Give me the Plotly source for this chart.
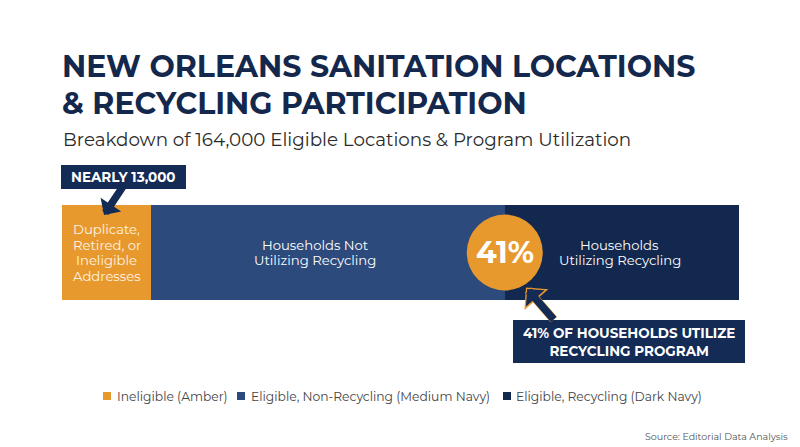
import plotly.graph_objects as go

# ---- data ----
segments = ["Ineligible (Amber)", "Eligible, Non-Recycling (Medium Navy)", "Eligible, Recycling (Dark Navy)"]
segment_share = [13.2, 52.2, 34.6]   # visual share of the bar (percent of width)
segment_labels = [["Duplicate,", "Retired, or", "Ineligible", "Addresses"],
                  ["Households Not", "Utilizing Recycling"],
                  ["Households", "Utilizing Recycling"]]
colors = ["#E8992E", "#2D4A7C", "#13284F"]
recycling_pct = 41
ineligible_note = "NEARLY 13,000"
pct_note = "41% OF HOUSEHOLDS UTILIZE<br>RECYCLING PROGRAM"

W, H = 800, 447
FONT = "Montserrat, 'Open Sans', Lato, sans-serif"
NAVY = "#13284C"
BOX = "#132B55"

def px(x):
    return x / W

def py(y):
    return 1 - y / H

fig = go.Figure()
for name, val, col in zip(segments, segment_share, colors):
    fig.add_trace(go.Bar(y=["all"], x=[val], orientation="h", name=name,
                         marker=dict(color=col, line=dict(width=0)),
                         width=1, showlegend=False, hoverinfo="skip"))

total = sum(segment_share)
bounds = [0]
for v in segment_share:
    bounds.append(bounds[-1] + v)

fig.update_layout(
    width=W, height=H, barmode="stack",
    margin=dict(l=0, r=0, t=0, b=0),
    paper_bgcolor="white", plot_bgcolor="white",
    xaxis=dict(range=[0, total], domain=[62 / W, 739 / W], visible=False, fixedrange=True),
    yaxis=dict(range=[-0.5, 0.5], domain=[1 - 300 / H, 1 - 205 / H], visible=False, fixedrange=True),
    showlegend=False,
    font=dict(family=FONT),
)

ann = []
shapes = []
# Title & subtitle
ann.append(dict(text="<b>NEW ORLEANS SANITATION LOCATIONS</b>", x=px(60), y=py(66), xref="paper", yref="paper",
                xanchor="left", yanchor="middle", showarrow=False, font=dict(size=30, color=NAVY, family=FONT)))
ann.append(dict(text="<b>&amp; RECYCLING PARTICIPATION</b>", x=px(60), y=py(103), xref="paper", yref="paper",
                xanchor="left", yanchor="middle", showarrow=False, font=dict(size=30, color=NAVY, family=FONT)))
ann.append(dict(text="Breakdown of 164,000 Eligible Locations &amp; Program Utilization", x=px(61), y=py(139),
                xref="paper", yref="paper", xanchor="left", yanchor="middle", showarrow=False,
                font=dict(size=18.3, color="#2a2a2a", family=FONT)))

# Segment labels (one annotation per line for tight line spacing)
label_x = [bounds[0] + segment_share[0] / 2, bounds[1] + segment_share[1] / 2 - 2.0, bounds[2] + segment_share[2] / 2 - 0.3]
label_color = ["#FDF3E2", "white", "white"]
LINE = 15.5
for lx, lines, lc in zip(label_x, segment_labels, label_color):
    n = len(lines)
    for i, line in enumerate(lines):
        yc = 252.5 + (i - (n - 1) / 2) * LINE
        ann.append(dict(text=line, x=lx, y=py(yc), xref="x", yref="paper", xanchor="center", yanchor="middle",
                        showarrow=False, font=dict(size=13.2, color=lc, family=FONT)))

# Circle with percentage
shapes.append(dict(type="circle", xref="x", yref="y", xsizemode="pixel", ysizemode="pixel",
                   xanchor=bounds[2], yanchor=0, x0=-38, x1=38, y0=-38, y1=38,
                   fillcolor=colors[0], line=dict(width=0), layer="above"))
ann.append(dict(text="<b>%d%%</b>" % recycling_pct, x=bounds[2], y=0, xref="x", yref="y", xanchor="center",
                yanchor="middle", showarrow=False, font=dict(size=30, color="white", family=FONT)))

# Callout box 1
shapes.append(dict(type="rect", xref="paper", yref="paper", x0=px(61), x1=px(186), y0=py(189), y1=py(165),
                   fillcolor=BOX, line=dict(width=0), layer="above"))
ann.append(dict(text="<b>" + ineligible_note + "</b>", x=px(123.5), y=py(177), xref="paper", yref="paper",
                xanchor="center", yanchor="middle",
                showarrow=False, font=dict(size=13.5, color="white", family=FONT)))
# Arrow 1
ann.append(dict(text="", x=px(104), y=py(215), xref="paper", yref="paper", showarrow=True,
                ax=20, ay=-30, arrowhead=1, arrowsize=0.55, arrowwidth=7.5, arrowcolor=BOX))

# Callout box 2
shapes.append(dict(type="rect", xref="paper", yref="paper", x0=px(513), x1=px(745), y0=py(363), y1=py(320),
                   fillcolor=BOX, line=dict(width=0), layer="above"))
ann.append(dict(text="<b>" + pct_note + "</b>", x=px(629), y=py(341.5), xref="paper", yref="paper",
                xanchor="center", yanchor="middle",
                showarrow=False, font=dict(size=13.5, color="white", family=FONT), align="center"))
# Arrow 2 (thin amber outline then navy)
ann.append(dict(text="", x=px(526), y=py(287.6), xref="paper", yref="paper", showarrow=True,
                ax=29, ay=33.4, arrowhead=1, arrowsize=0.62, arrowwidth=8.5, arrowcolor=colors[0]))
ann.append(dict(text="", x=px(527.2), y=py(289), xref="paper", yref="paper", showarrow=True,
                ax=27.8, ay=32, arrowhead=1, arrowsize=0.55, arrowwidth=7.5, arrowcolor=BOX))

# Legend (manual squares + labels)
sq_x = [103, 237, 503]
txt_x = [115, 249, 514]
for name, col, sx, tx in zip(segments, colors, sq_x, txt_x):
    shapes.append(dict(type="rect", xref="paper", yref="paper", x0=px(sx), x1=px(sx + 8), y0=py(400), y1=py(392),
                       fillcolor=col, line=dict(width=0)))
    ann.append(dict(text=name, x=px(tx), y=py(396), xref="paper", yref="paper", xanchor="left", yanchor="middle",
                    showarrow=False, font=dict(size=12.3, color="#444444", family=FONT)))

# Source
ann.append(dict(text="Source: Editorial Data Analysis", x=px(790), y=py(436), xref="paper", yref="paper",
                xanchor="right", yanchor="middle", showarrow=False, font=dict(size=9.5, color="#555555", family=FONT)))

fig.update_layout(annotations=ann, shapes=shapes)
fig.write_html("out.html", config={"displayModeBar": False},
               post_script="document.body.style.margin='0';document.body.style.overflow='hidden';")
